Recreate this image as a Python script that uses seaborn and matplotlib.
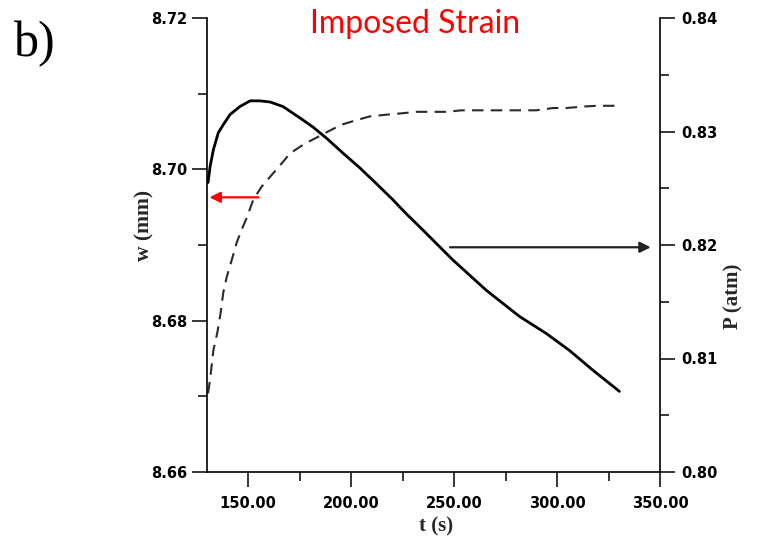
import matplotlib
matplotlib.use("Agg")
import matplotlib.pyplot as plt
import seaborn as sns
from matplotlib.ticker import FixedLocator, FormatStrFormatter

# ---- data ----
# dashed curve: w (mm), left axis
t_w = [130.5, 131.5, 133.1, 135.0, 136.6, 137.9, 139.6, 142.0, 144.4, 146.8,
       149.3, 152.5, 156.5, 160.6, 165.4, 170.3, 177.5, 184.0, 188.8, 195.3,
       202.6, 209.1, 216.3, 224.4, 231.7, 246.3, 253.6, 289.9, 298.0, 304.5,
       312.5, 319.8, 331.1]
w_mm = [8.6704, 8.6722, 8.6761, 8.6784, 8.6810, 8.6837, 8.6858, 8.6880, 8.6903, 8.6920,
        8.6936, 8.6960, 8.6977, 8.6990, 8.7005, 8.7021, 8.7034, 8.7043, 8.7050, 8.7059,
        8.7065, 8.7070, 8.7072, 8.7074, 8.7076, 8.7076, 8.7078, 8.7078, 8.7081, 8.7081,
        8.7083, 8.7084, 8.7084]

# solid curve: P (atm), right axis
t_p = [130.5, 131.5, 133.1, 135.5, 137.9, 141.2, 146.0, 150.9, 155.7, 160.6,
       166.9, 175.1, 181.4, 188.1, 196.0, 204.2, 212.3, 220.2, 226.5, 233.3,
       249.3, 265.7, 281.8, 294.8, 306.1, 317.2, 330.3]
p_atm = [0.8255, 0.8269, 0.8284, 0.8299, 0.8306, 0.8315, 0.8322, 0.8327, 0.8327, 0.8326,
         0.8322, 0.8312, 0.8304, 0.8294, 0.8281, 0.8268, 0.8254, 0.8240, 0.8228, 0.8216,
         0.8187, 0.8160, 0.8137, 0.8122, 0.8107, 0.8090, 0.8071]

x_ticks = [150, 200, 250, 300, 350]
x_minor = [175, 225, 275, 325]
w_ticks = [8.66, 8.68, 8.70, 8.72]
w_minor = [8.67, 8.69, 8.71]
p_ticks = [0.80, 0.81, 0.82, 0.83, 0.84]
p_minor = [0.805, 0.815, 0.825, 0.835]

# annotation arrows (tail -> head)
red_arrow_t = [155.0, 131.2]
red_arrow_w = 8.6963
black_arrow_t = [248.0, 345.5]
black_arrow_p = 0.8198

# ---- figure ----
sns.set_theme(style="ticks")
plt.rcParams['font.family'] = ['DejaVu Sans']

fig = plt.figure(figsize=(7.82, 5.39), dpi=100)
fig.patch.set_facecolor('white')
ax = fig.add_axes([207 / 782, 1 - 472 / 539, 453 / 782, 454 / 539])
ax.set_facecolor('white')
ax2 = ax.twinx()

sns.lineplot(x=t_w, y=w_mm, ax=ax, color='#2a2a2a', lw=1.5,
             linestyle=(0, (5.5, 3.5)), errorbar=None)
sns.lineplot(x=t_p, y=p_atm, ax=ax2, color='black', lw=2.0, errorbar=None)

ax.set_xlim(130, 350)
ax.set_ylim(8.66, 8.72)
ax2.set_ylim(0.80, 0.84)

ax.xaxis.set_major_locator(FixedLocator(x_ticks))
ax.xaxis.set_minor_locator(FixedLocator(x_minor))
ax.yaxis.set_major_locator(FixedLocator(w_ticks))
ax.yaxis.set_minor_locator(FixedLocator(w_minor))
ax2.yaxis.set_major_locator(FixedLocator(p_ticks))
ax2.yaxis.set_minor_locator(FixedLocator(p_minor))
ax.xaxis.set_major_formatter(FormatStrFormatter('%.2f'))
ax.yaxis.set_major_formatter(FormatStrFormatter('%.2f'))
ax2.yaxis.set_major_formatter(FormatStrFormatter('%.2f'))

for a in (ax, ax2):
    a.spines['top'].set_visible(False)
    for s in a.spines.values():
        s.set_linewidth(1.2)
        s.set_color('black')
    a.tick_params(which='major', direction='out', length=11, width=1.1,
                  color='black', labelsize=10.5, labelcolor='black')
    a.tick_params(which='minor', direction='out', length=6.5, width=1.1,
                  color='black')
    a.grid(False)
ax.tick_params(axis='y', which='major', pad=3)
ax.tick_params(axis='x', which='major', pad=6)
ax2.tick_params(axis='y', which='major', pad=4)
ax.spines['right'].set_visible(False)
ax2.spines['left'].set_visible(False)
ax2.spines['bottom'].set_visible(False)
for lab in ax.get_xticklabels() + ax.get_yticklabels() + ax2.get_yticklabels():
    lab.set_fontweight('bold')

serif = ['Liberation Serif', 'DejaVu Serif']
ax.set_xlabel('t (s)', fontsize=15, fontweight='bold', family=serif)
ax.set_ylabel('w (mm)', fontsize=15.5, fontweight='bold', family=serif)
ax2.set_ylabel('P (atm)', fontsize=15, fontweight='bold', family=serif,
               rotation=90)
ax.xaxis.set_label_coords(0.506, -0.097)
ax.yaxis.set_label_coords(-0.115, 0.542)
ax2.yaxis.set_label_coords(1.14, 0.388)

ax.annotate('', xy=(red_arrow_t[1], red_arrow_w), xytext=(red_arrow_t[0], red_arrow_w),
            arrowprops=dict(arrowstyle='-|>', color='red', lw=1.6,
                            mutation_scale=16, shrinkA=0, shrinkB=0))
ax2.annotate('', xy=(black_arrow_t[1], black_arrow_p), xytext=(black_arrow_t[0], black_arrow_p),
             arrowprops=dict(arrowstyle='-|>', color='#222222', lw=1.6,
                             mutation_scale=16, shrinkA=0, shrinkB=0))

fig.text(415 / 782, 1 - 24 / 539, 'Imposed Strain', color='red', fontsize=23,
         family=['Lato', 'DejaVu Sans'], ha='center', va='center')
fig.text(14 / 782, 1 - 56 / 539, 'b)', fontsize=36, family=serif,
         ha='left', va='baseline', color='black')

fig.savefig('out.png', dpi=100, facecolor='white')
